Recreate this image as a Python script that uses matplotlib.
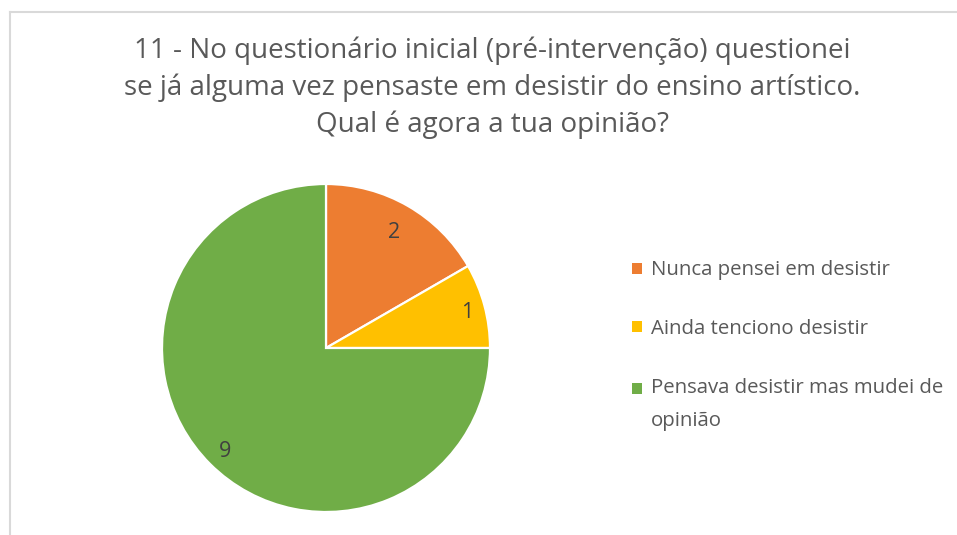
import matplotlib
matplotlib.use("Agg")
import numpy as np
import matplotlib.pyplot as plt
from matplotlib.lines import Line2D

categories = ["Nunca pensei em desistir", "Ainda tenciono desistir",
              "Pensava desistir mas mudei de opinião"]
legend_labels = ["Nunca pensei em desistir", "Ainda tenciono desistir",
                 "Pensava desistir mas mudei de\nopinião"]
values = [2, 1, 9]
colors = ["#ED7D31", "#FFC000", "#70AD47"]
title = ("11 - No questionário inicial (pré-intervenção) questionei\n"
         "se já alguma vez pensaste em desistir do ensino artístico.\n"
         "Qual é agora a tua opinião?")
label_dist = [0.83, 0.89, 0.87]

plt.rcParams['font.family'] = ['Open Sans', 'DejaVu Sans']

W, H = 957, 535
fig = plt.figure(figsize=(W / 100, H / 100), dpi=100)
fig.patch.set_facecolor("white")

# chart border (cropped at right/bottom)
fig.add_artist(Line2D([10 / W, 10 / W], [0, 1 - 12 / H], transform=fig.transFigure,
                      color="#D9D9D9", lw=1.5))
fig.add_artist(Line2D([10 / W, 1], [1 - 12 / H, 1 - 12 / H], transform=fig.transFigure,
                      color="#D9D9D9", lw=1.5))

cx, cy, r = 326, 348, 164
ax = fig.add_axes([(cx - r) / W, (H - cy - r) / H, 2 * r / W, 2 * r / H])
wedges, texts = ax.pie(values, colors=colors, startangle=90, counterclock=False,
                       labels=[str(v) for v in values], labeldistance=0.87,
                       wedgeprops=dict(edgecolor="white", linewidth=1.6),
                       textprops=dict(color="#404040", fontsize=15.5))
for w, t, d in zip(wedges, texts, label_dist):
    ang = np.deg2rad((w.theta1 + w.theta2) / 2)
    t.set_position((d * np.cos(ang), d * np.sin(ang)))
    t.set_horizontalalignment("center")
    t.set_verticalalignment("center_baseline")
ax.set_xlim(-1, 1)
ax.set_ylim(-1, 1)
ax.set_aspect("equal")
ax.axis("off")

fig.text(492 / W, 1 - 88 / H, title, ha="center", va="center", fontsize=20,
         color="#595959", linespacing=1.4)

leg = fig.legend(wedges, legend_labels, loc="upper left",
                 bbox_to_anchor=(614 / W, 1 - 242 / H), frameon=False,
                 fontsize=14.7, labelcolor="#595959", handlelength=0.45,
                 handleheight=0.45, handletextpad=0.45, labelspacing=1.9)
for t in leg.get_texts():
    t.set_linespacing(1.9)
for h, lab in zip(leg.legend_handles, legend_labels):
    h.set_edgecolor("none")
    nextra = lab.count("\n")
    if nextra:
        # align the marker with the first line of a wrapped label
        h.set_y(h.get_y() + nextra * 16 * 72 / 100)

fig.savefig("out.png", dpi=100, facecolor="white")
